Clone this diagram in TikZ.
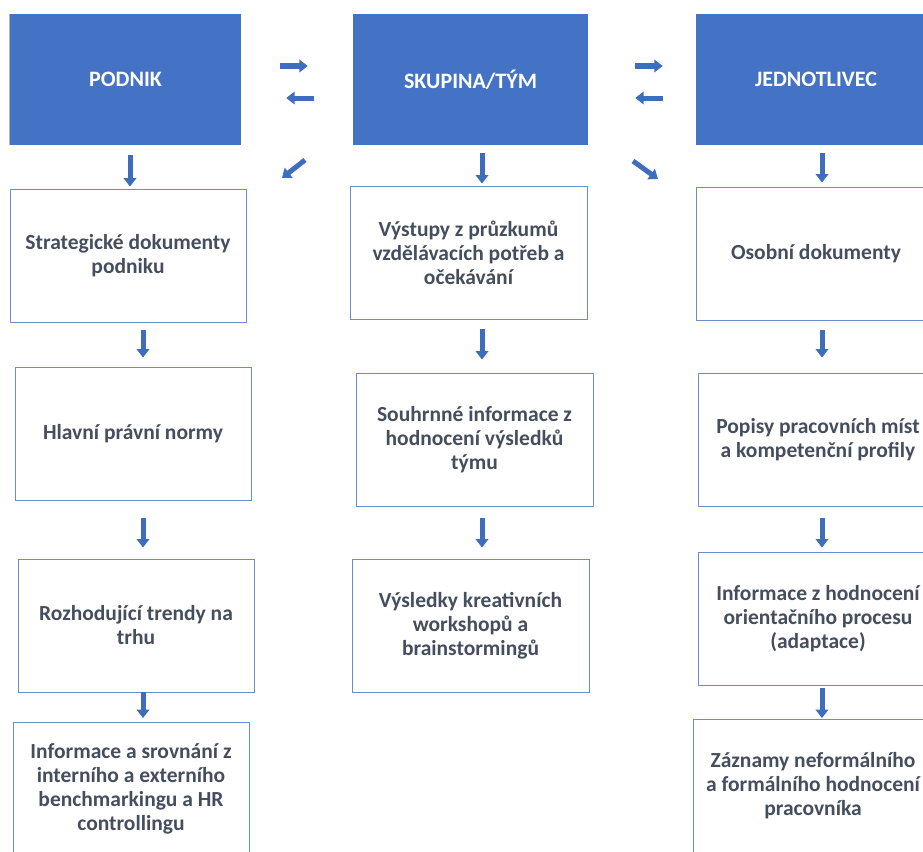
\documentclass[tikz,border=0pt]{standalone}
\usepackage{fontspec}
\setmainfont{Carlito}
\usetikzlibrary{arrows.meta}
\definecolor{hdr}{HTML}{4472C4}
\definecolor{boxline}{HTML}{6A8CC7}
\definecolor{txt}{HTML}{454E5E}
\definecolor{arr}{HTML}{3F6DBE}
\tikzset{
  hdrbox/.style={fill=hdr, draw=none, minimum width=231pt, minimum height=131pt, inner sep=0pt,
    text=white, font=\fontsize{22}{24}\selectfont\bfseries},
  infobox/.style={draw=boxline, line width=0.9pt, fill=white, minimum width=236pt, minimum height=133pt,
    inner sep=1pt, align=center, text=txt, font=\fontsize{21.5}{24}\selectfont\bfseries},
  barrow/.style={draw=arr, line width=5pt, -{Triangle[width=12.5pt,length=8.5pt]}}
}
\begin{document}
\begin{tikzpicture}[x=1pt,y=-1pt]
\useasboundingbox (0,0) rectangle (923,851);
\fill[white] (0,0) rectangle (923,851);
% headers
\node[hdrbox] (h1) at (125.5,79.5) {PODNIK};
\draw[gray!60, line width=1.2pt] (h1.north west) -- (h1.south west);
\node[hdrbox, minimum width=235pt] (h2) at (470.5,79.5) {SKUPINA/TÝM};
\node[hdrbox, minimum width=240pt] (h3) at (816,79.5) {JEDNOTLIVEC};
% left column
\node[infobox] (l1) at (128,255.5) {Strategické dokumenty\\podniku};
\node[infobox] (l2) at (133,433.5) {Hlavní právní normy};
\node[infobox] (l3) at (136,625.5) {Rozhodující trendy na\\trhu};
\node[infobox] (l4) at (131,789) {Informace a srovnání z\\interního a externího\\benchmarkingu a HR\\controllingu};
% middle column
\node[infobox, minimum width=237pt] (m1) at (468.5,252.5) {Výstupy z průzkumů\\vzdělávacích potřeb a\\očekávání};
\node[infobox, minimum width=237pt] (m2) at (474.5,439.5) {Souhrnné informace z\\hodnocení výsledků\\týmu};
\node[infobox, minimum width=237pt] (m3) at (470.5,625.5) {Výsledky kreativních\\workshopů a\\brainstormingů};
% right column
\node[infobox, minimum width=240pt] (r1) at (816,253.5) {Osobní dokumenty};
\node[infobox, minimum width=240pt] (r2) at (818,439.5) {Popisy pracovních míst\\a kompetenční profily};
\node[infobox, minimum width=240pt] (r3) at (818,618.5) {Informace z hodnocení\\orientačního procesu\\(adaptace)};
\node[infobox, minimum width=240pt] (r4) at (813,786) {Záznamy neformálního\\a formálního hodnocení\\pracovníka};
% arrow columns
\coordinate (xa) at (130,0);
\coordinate (xb) at (143,0);
\coordinate (xm) at (482,0);
\coordinate (xr) at (822,0);
\draw[barrow, shorten <=10pt, shorten >=2pt] (h1.south -| xa) -- (l1.north -| xa);
\draw[barrow, shorten <=8pt, shorten >=9pt] (l1.south -| xb) -- (l2.north -| xb);
\draw[barrow, shorten <=18pt, shorten >=11pt] (l2.south -| xb) -- (l3.north -| xb);
\draw[barrow, shorten <=0pt, shorten >=4pt] (l3.south -| xb) -- (l4.north -| xb);
\draw[barrow, shorten <=8pt, shorten >=2pt] (h2.south -| xm) -- (m1.north -| xm);
\draw[barrow, shorten <=10pt, shorten >=13pt] (m1.south -| xm) -- (m2.north -| xm);
\draw[barrow, shorten <=12pt, shorten >=11pt] (m2.south -| xm) -- (m3.north -| xm);
\draw[barrow, shorten <=8pt, shorten >=4pt] (h3.south -| xr) -- (r1.north -| xr);
\draw[barrow, shorten <=10pt, shorten >=15pt] (r1.south -| xr) -- (r2.north -| xr);
\draw[barrow, shorten <=12pt, shorten >=4pt] (r2.south -| xr) -- (r3.north -| xr);
\draw[barrow, shorten <=3pt, shorten >=1pt] (r3.south -| xr) -- (r4.north -| xr);
% horizontal arrows between headers
\coordinate (ya) at (0,66);
\coordinate (yb) at (0,98);
\draw[barrow, shorten <=39pt, shorten >=45pt] (h1.east |- ya) -- (h2.west |- ya);
\draw[barrow, shorten <=39pt, shorten >=45pt] (h2.west |- yb) -- (h1.east |- yb);
\draw[barrow, shorten <=47pt, shorten >=33pt] (h2.east |- ya) -- (h3.west |- ya);
\draw[barrow, shorten <=33pt, shorten >=47pt] (h3.west |- yb) -- (h2.east |- yb);
% diagonal arrows
\coordinate (d1s) at (305,160);
\coordinate (d1e) at (282,178);
\coordinate (d2s) at (633,161);
\coordinate (d2e) at (658,179);
\draw[barrow] (d1s) -- (d1e);
\draw[barrow] (d2s) -- (d2e);
\end{tikzpicture}
\end{document}
